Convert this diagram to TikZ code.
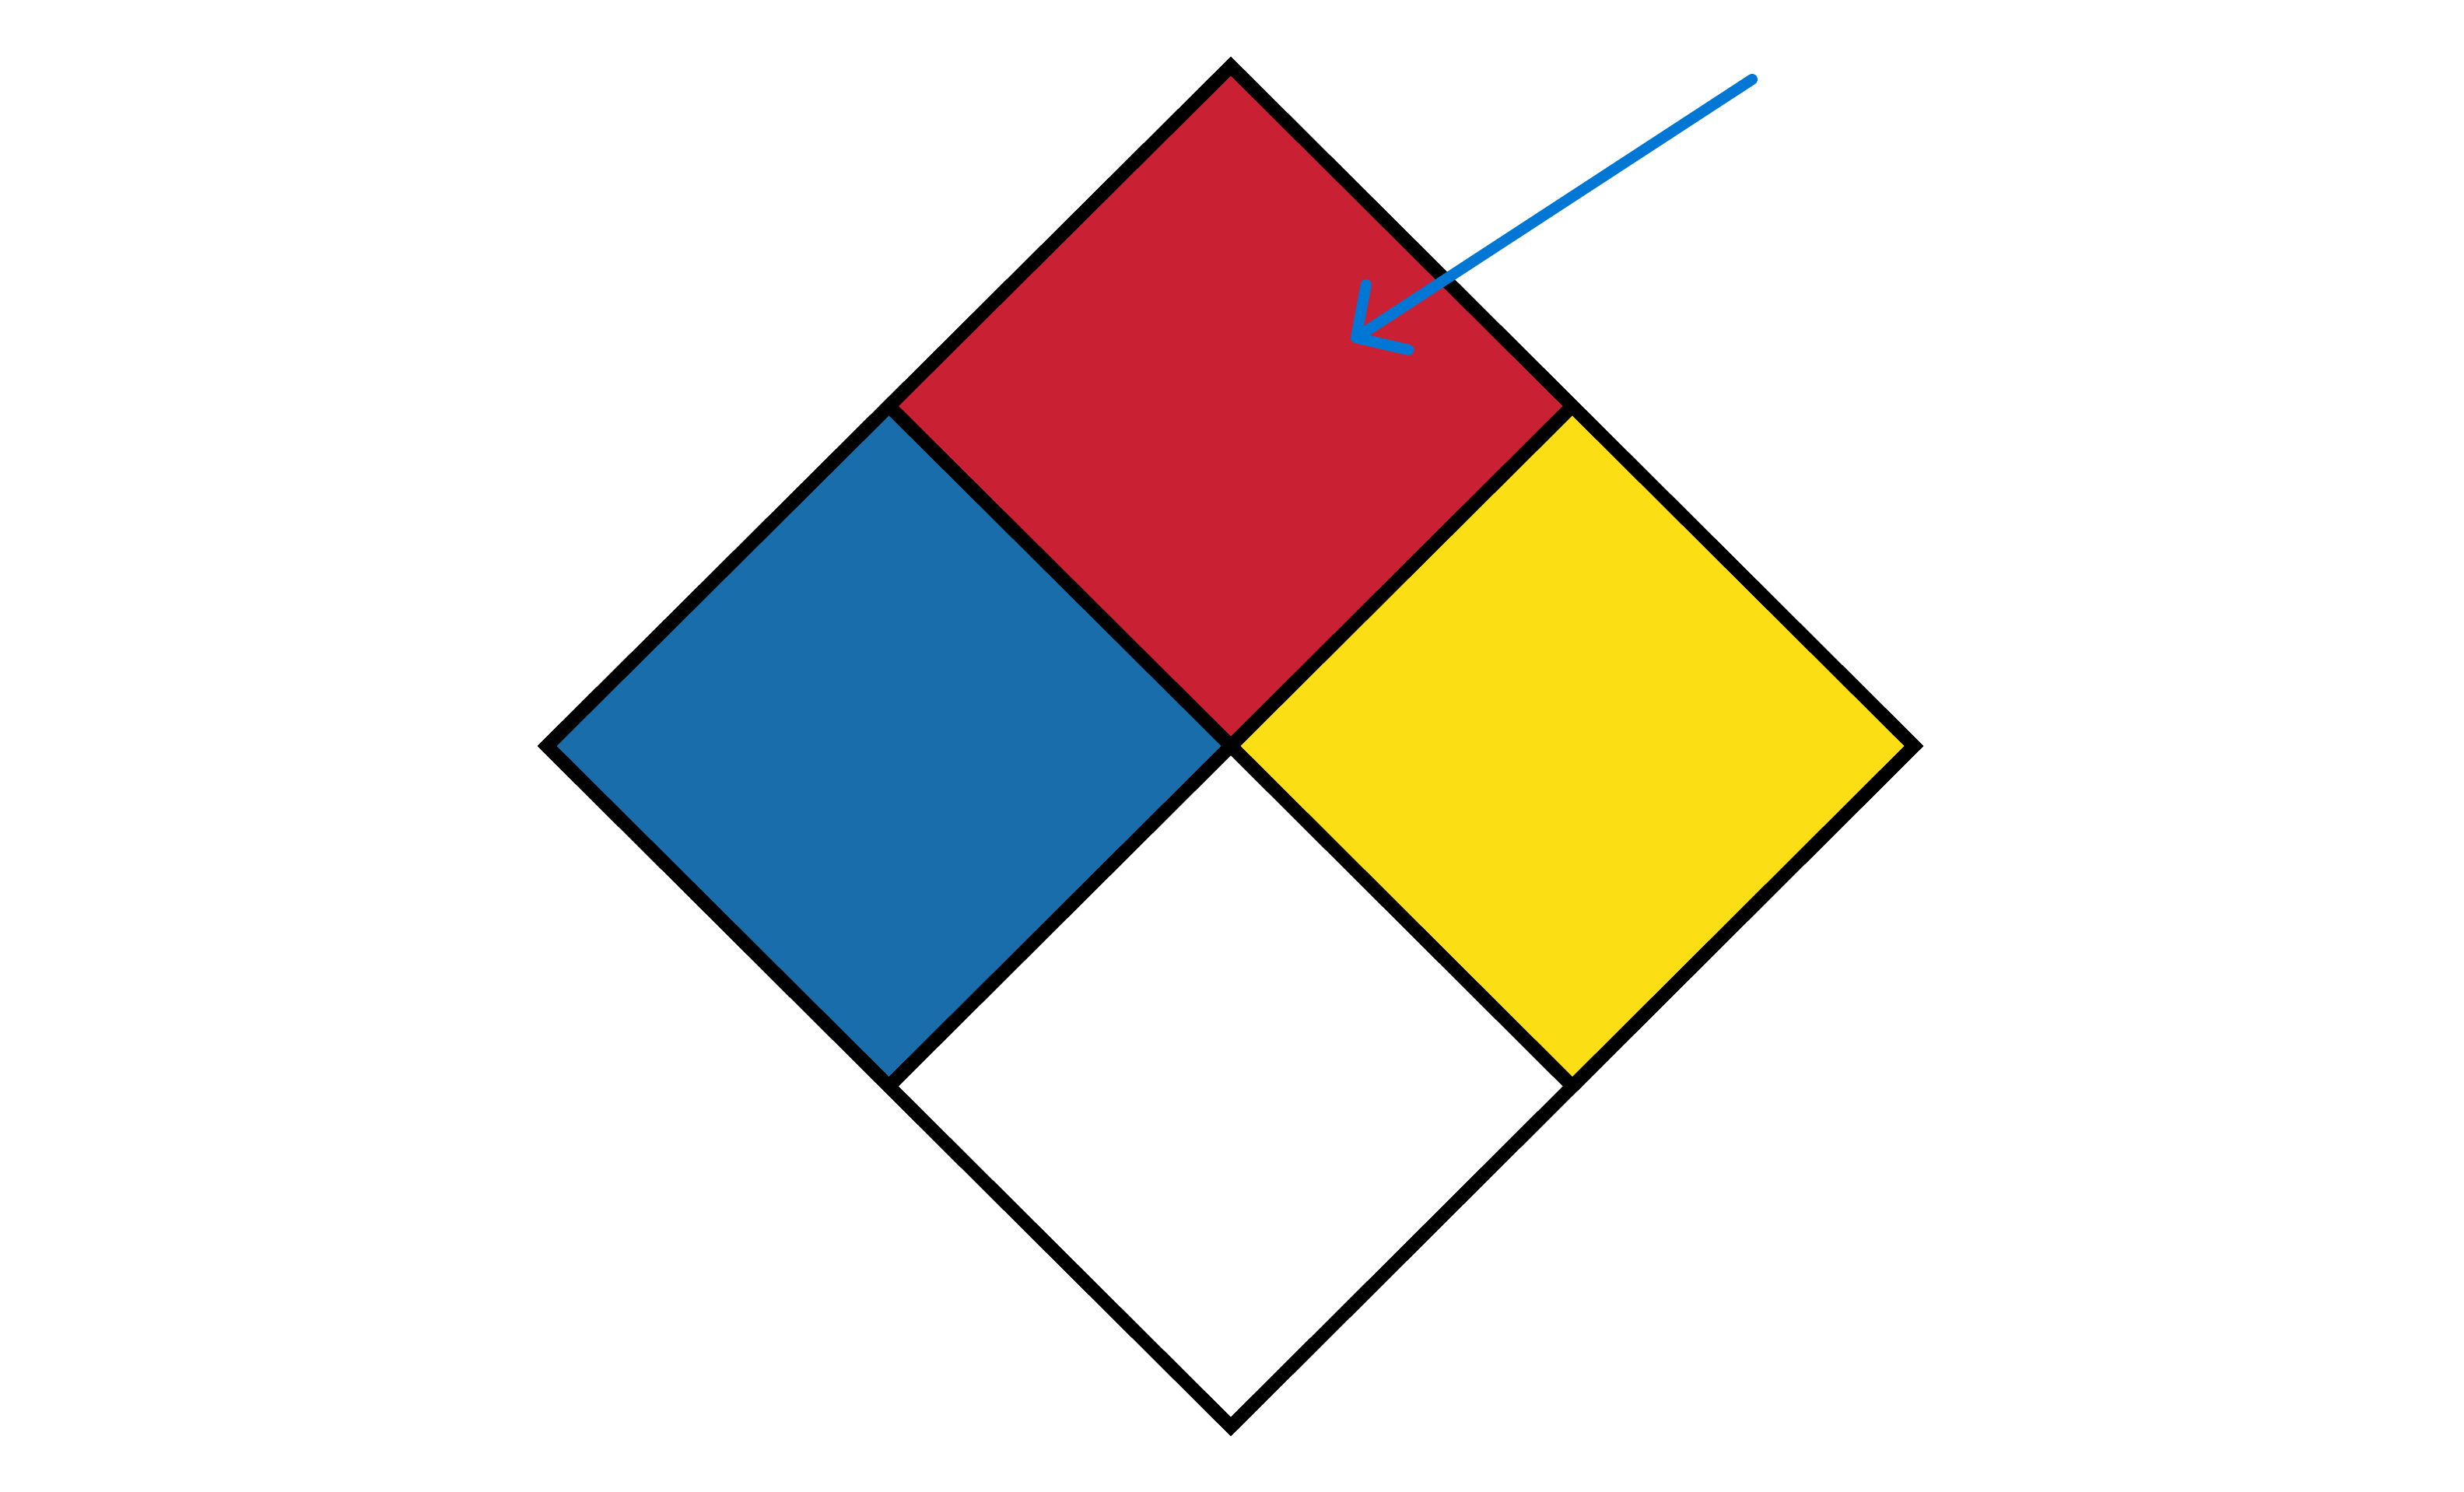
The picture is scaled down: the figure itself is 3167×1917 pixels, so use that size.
\documentclass[tikz,border=0pt]{standalone}
\usepackage{tikz}
\usetikzlibrary{arrows.meta, calc}
\definecolor{firered}{HTML}{CA2033}
\definecolor{healthblue}{HTML}{196DAA}
\definecolor{reactyellow}{HTML}{FCDE15}
\definecolor{pointblue}{HTML}{0077D5}
\tikzstyle{panel}=[draw=black,line width=4.9pt,line join=miter]
\tikzstyle{pointer}=[draw=pointblue,line width=4pt,line cap=round,-{Straight Barb[length=0.48cm,width=1.0cm,round]}]
\begin{document}
\begin{tikzpicture}[x=0.01cm,y=-0.01cm]
    \useasboundingbox (0,0) rectangle (3167,1917);
    \coordinate (top) at (1582,85);
    \coordinate (left) at (703,959);
    \coordinate (right) at (2460,959);
    \coordinate (bottom) at (1582,1834);
    \coordinate (c) at (1582,959);
    \coordinate (ul) at ($(top)!0.5!(left)$);
    \coordinate (ur) at ($(top)!0.5!(right)$);
    \coordinate (ll) at ($(bottom)!0.5!(left)$);
    \coordinate (lr) at ($(bottom)!0.5!(right)$);
    \coordinate (start) at (2252,102);
    \coordinate (tip) at (1737,438);
    \draw[panel,fill=firered] (top) -- (ur) -- (c) -- (ul) -- cycle;
    \draw[panel,fill=healthblue] (ul) -- (c) -- (ll) -- (left) -- cycle;
    \draw[panel,fill=reactyellow] (ur) -- (right) -- (lr) -- (c) -- cycle;
    \draw[panel,fill=white] (c) -- (lr) -- (bottom) -- (ll) -- cycle;
    \draw[panel] (top) -- (right) -- (bottom) -- (left) -- cycle;
    \draw[pointer] (start) -- (tip);
\end{tikzpicture}
\end{document}
